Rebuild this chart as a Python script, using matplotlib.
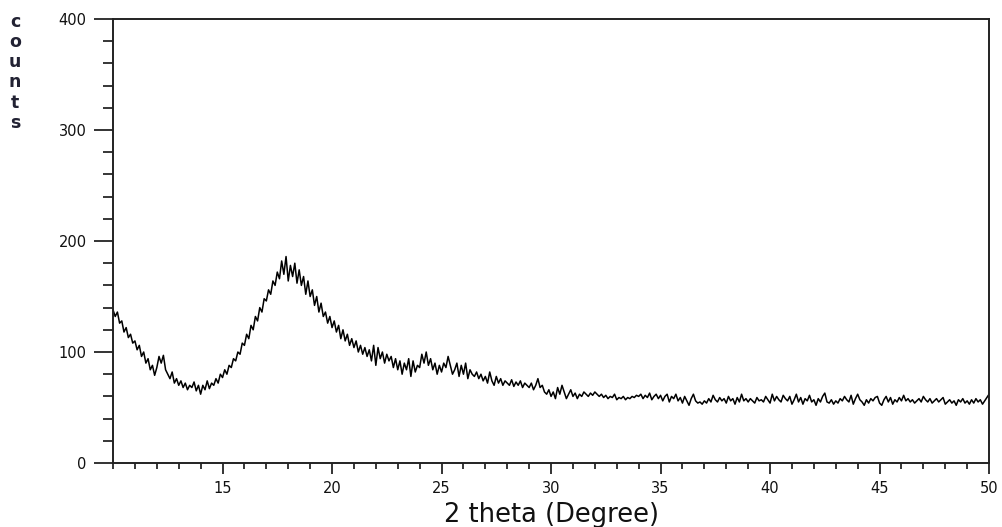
import numpy as np
import matplotlib.pyplot as plt
from matplotlib.ticker import MultipleLocator

# XRD scan, 2 theta from 10 to 50 degree, step 0.1
theta_start = 10.0
theta_stop = 50.0

counts = [
    138, 132, 136, 126, 128, 118, 122, 113, 116, 108,   # 10
    110, 102, 106, 96, 100, 90, 94, 84, 88, 79,         # 11
    86, 96, 90, 97, 84, 80, 76, 82, 72, 76,             # 12
    70, 74, 68, 72, 66, 70, 68, 73, 65, 70,             # 13
    62, 70, 66, 74, 67, 72, 70, 76, 72, 80,             # 14
    77, 84, 80, 88, 86, 94, 92, 100, 98, 108,           # 15
    106, 116, 112, 124, 120, 132, 128, 140, 136, 148,   # 16
    146, 156, 152, 164, 160, 172, 166, 182, 170, 186,   # 17
    164, 178, 168, 180, 162, 174, 160, 168, 152, 164,   # 18
    150, 156, 142, 150, 136, 144, 132, 136, 126, 132,   # 19
    122, 128, 118, 124, 112, 120, 110, 116, 106, 112,   # 20
    104, 110, 100, 106, 98, 104, 96, 102, 92, 106,      # 21
    88, 104, 94, 100, 90, 98, 92, 96, 86, 94,           # 22
    84, 92, 80, 90, 84, 94, 78, 92, 82, 88,             # 23
    86, 98, 90, 100, 88, 94, 84, 90, 80, 88,            # 24
    82, 90, 86, 96, 88, 80, 84, 90, 78, 88,             # 25
    80, 90, 76, 84, 80, 78, 82, 76, 80, 74,             # 26
    78, 72, 82, 74, 70, 78, 72, 76, 70, 74,             # 27
    72, 70, 75, 69, 73, 70, 74, 68, 72, 70,             # 28
    68, 72, 66, 70, 76, 68, 70, 64, 62, 66,             # 29
    60, 64, 58, 68, 62, 70, 64, 58, 62, 66,             # 30
    60, 63, 58, 62, 60, 64, 62, 60, 63, 61,             # 31
    64, 62, 60, 62, 59, 61, 58, 60, 59, 62,             # 32
    57, 59, 58, 60, 57, 59, 58, 60, 59, 61,             # 33
    60, 62, 58, 61, 59, 63, 57, 60, 62, 58,             # 34
    61, 56, 60, 62, 55, 60, 58, 62, 56, 59,             # 35
    54, 60, 56, 52, 58, 62, 56, 54, 55, 53,             # 36
    56, 54, 58, 55, 61, 57, 55, 59, 56, 58,             # 37
    54, 60, 56, 58, 53, 59, 55, 62, 56, 58,             # 38
    55, 58, 56, 54, 59, 56, 57, 55, 60, 57,             # 39
    54, 62, 56, 60, 57, 55, 61, 58, 56, 60,             # 40
    53, 57, 62, 55, 59, 53, 58, 56, 61, 55,             # 41
    57, 52, 58, 55, 60, 63, 55, 54, 57, 53,             # 42
    56, 54, 58, 56, 60, 57, 55, 61, 53, 58,             # 43
    62, 57, 55, 52, 57, 54, 58, 56, 59, 60,             # 44
    54, 52, 57, 60, 55, 59, 53, 57, 55, 59,             # 45
    56, 61, 56, 58, 55, 57, 54, 56, 58, 55,             # 46
    60, 57, 55, 58, 54, 56, 58, 55, 57, 59,             # 47
    53, 55, 57, 54, 56, 52, 57, 55, 58, 54,             # 48
    56, 53, 57, 54, 58, 55, 57, 53, 56, 59,             # 49
    62,                                                 # 50
]

x_ticks = [15, 20, 25, 30, 35, 40, 45, 50]
y_ticks = [0, 100, 200, 300, 400]

theta = np.linspace(theta_start, theta_stop, len(counts))

ink = '#111111'

fig = plt.figure(figsize=(10.02, 5.27), dpi=100)
ax = fig.add_axes([0.1128, 0.1214, 0.8743, 0.8426])

ax.plot(theta, counts, color='black', lw=1.1)

ax.set_xlim(theta_start, theta_stop)
ax.set_ylim(0, 400)
ax.set_xticks(x_ticks)
ax.set_yticks(y_ticks)
ax.xaxis.set_minor_locator(MultipleLocator(1))
ax.yaxis.set_minor_locator(MultipleLocator(20))

for sp in ax.spines.values():
    sp.set_linewidth(1.4)
    sp.set_color('#222222')

ax.tick_params(axis='x', which='major', direction='out', length=8, width=1.2,
               pad=5, labelsize=10.5, colors=ink)
ax.tick_params(axis='x', which='minor', direction='out', length=4, width=1.1)
ax.tick_params(axis='y', which='major', direction='out', length=14, width=1.2,
               pad=5, labelsize=10.5, colors=ink)
ax.tick_params(axis='y', which='minor', direction='out', length=7, width=1.1)

ax.set_xlabel('2 theta (Degree)', fontsize=18.5, color=ink, labelpad=4)

# vertical stacked y label
fig.text(0.015, 0.975, 'c\no\nu\nn\nt\ns', ha='center', va='top',
         fontsize=12.5, fontweight='bold', color='#222233', linespacing=1.15)

fig.savefig('out.png', dpi=100)
